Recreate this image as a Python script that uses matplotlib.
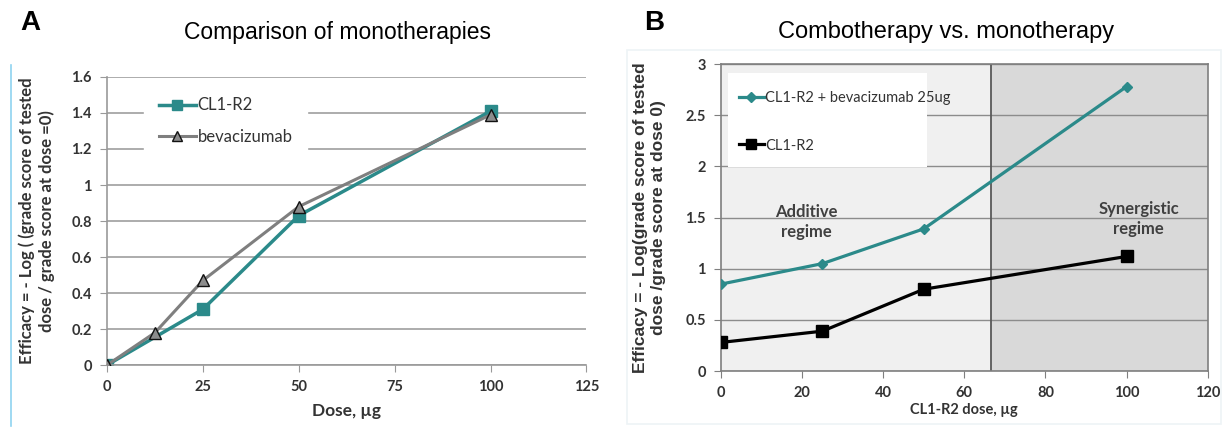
import numpy as np
import matplotlib
matplotlib.use("Agg")
import matplotlib.pyplot as plt
from matplotlib.lines import Line2D
from matplotlib.patches import Rectangle

# panel A data
dose_cl1 = [0, 25, 50, 100]
eff_cl1 = [0, 0.31, 0.83, 1.41]
dose_bev = [0, 12.5, 25, 50, 100]
eff_bev = [0, 0.18, 0.47, 0.88, 1.39]
a_xticks = [0, 25, 50, 75, 100, 125]
a_yticks = [0, 0.2, 0.4, 0.6, 0.8, 1, 1.2, 1.4, 1.6]
a_yticklabels = ["0", "0.2", "0.4", "0.6", "0.8", "1", "1.2", "1.4", "1.6"]

# panel B data
dose_b = [0, 25, 50, 100]
eff_combo = [0.85, 1.05, 1.39, 2.78]
eff_mono = [0.28, 0.39, 0.80, 1.12]
b_xticks = [0, 20, 40, 60, 80, 100, 120]
b_yticks = [0, 0.5, 1, 1.5, 2, 2.5, 3]
b_yticklabels = ["0", "0.5", "1", "1.5", "2", "2.5", "3"]
regime_split = 66.5

teal = "#2b8a8a"
grid_c = "#a6a6a6"
tick_font = dict(family="Lato", weight="bold", size=10.5, color="#333333")

fig = plt.figure(figsize=(12.23, 4.30), dpi=100)

# ---------------- panel A ----------------
a0 = fig.add_axes([0.0875, 0.151, 0.392, 0.670])
a0.plot(dose_bev, eff_bev, color="#7f7f7f", linewidth=2.2, marker="^", markersize=8,
        markerfacecolor="#8c8c8c", markeredgecolor="#111111", markeredgewidth=1.0,
        label="bevacizumab", zorder=3)
a0.plot(dose_cl1, eff_cl1, color=teal, linewidth=2.5, marker="s", markersize=8,
        markerfacecolor=teal, markeredgecolor=teal, label="CL1-R2", zorder=2)
a0.set_xlim(0, 125)
a0.set_ylim(0, 1.6)
a0.set_xticks(a_xticks)
a0.set_yticks(a_yticks)
a0.set_yticklabels(a_yticklabels)
a0.yaxis.grid(True, color=grid_c, linewidth=1.3)
a0.set_axisbelow(True)
for s in ["top", "right"]:
    a0.spines[s].set_visible(False)
for s in ["left", "bottom"]:
    a0.spines[s].set_color("#999999")
    a0.spines[s].set_linewidth(1.2)
a0.tick_params(axis="both", direction="out", length=5, color="#999999", pad=6)
for lab in a0.get_xticklabels() + a0.get_yticklabels():
    lab.set(**tick_font)
a0.set_xlabel("Dose, µg", family="Lato", weight="bold", size=12.5, color="#333333", labelpad=6)
a0.set_ylabel("Efficacy = - Log ( (grade score of tested\ndose / grade score at dose =0)",
              family="Lato", weight="bold", size=12, color="#333333", labelpad=12)
h = [Line2D([], [], color=teal, linewidth=2.5, marker="s", markersize=7, markerfacecolor=teal),
     Line2D([], [], color="#7f7f7f", linewidth=2.2, marker="^", markersize=7,
            markerfacecolor="#8c8c8c", markeredgecolor="#111111")]
leg = a0.legend(h, ["CL1-R2", "bevacizumab"], loc="upper left", bbox_to_anchor=(0.06, 1.01),
                frameon=True, fancybox=False, edgecolor="white", framealpha=1,
                handlelength=2.2, handletextpad=0.1, labelspacing=0.95, borderpad=0.9,
                prop=dict(family="Lato", size=12))
for t in leg.get_texts():
    t.set_color("#333333")
fig.text(337 / 1223, 1 - 32 / 430, "Comparison of monotherapies", family="Liberation Sans",
         size=16.5, ha="center", va="center")
fig.text(0.017, 0.93, "A", family="Liberation Sans", weight="bold", size=20)

# ---------------- panel B ----------------
a1 = fig.add_axes([0.5895, 0.137, 0.398, 0.714])
a1.axvspan(0, regime_split, color="#f0f0f0", zorder=0)
a1.axvspan(regime_split, 120, color="#d9d9d9", zorder=0)
a1.axvline(regime_split, color="#595959", linewidth=1.3, zorder=1)
a1.yaxis.grid(True, color="#8c8c8c", linewidth=1.0, zorder=1)
a1.set_axisbelow(True)
a1.plot(dose_b, eff_combo, color=teal, linewidth=2.3, marker="D", markersize=5,
        markerfacecolor=teal, markeredgecolor=teal, zorder=3)
a1.plot(dose_b, eff_mono, color="black", linewidth=2.3, marker="s", markersize=8,
        markerfacecolor="black", zorder=3)
a1.set_xlim(0, 120)
a1.set_ylim(0, 3)
a1.set_xticks(b_xticks)
a1.set_yticks(b_yticks)
a1.set_yticklabels(b_yticklabels)
for s in a1.spines.values():
    s.set_color("#7f7f7f")
    s.set_linewidth(1.2)
a1.tick_params(axis="both", direction="out", length=5, color="#7f7f7f", pad=6)
for lab in a1.get_xticklabels() + a1.get_yticklabels():
    lab.set(**tick_font)
a1.set_xlabel("CL1-R2 dose, µg", family="Lato", weight="bold", size=10.5, color="#333333", labelpad=2)
a1.set_ylabel("Efficacy = - Log(grade score of tested\ndose /grade score at dose 0)",
              family="Liberation Sans", weight="bold", size=12.5, color="#333333", labelpad=14)
a1.add_patch(Rectangle((0.014, 0.665), 0.41, 0.305, transform=a1.transAxes,
                       facecolor="white", edgecolor="none", zorder=2))
hb = [Line2D([], [], color=teal, linewidth=2.3, marker="D", markersize=5, markerfacecolor=teal),
      Line2D([], [], color="black", linewidth=2.3, marker="s", markersize=7)]
legb = a1.legend(hb, ["CL1-R2 + bevacizumab 25ug", "CL1-R2"], loc="upper left",
                 bbox_to_anchor=(0.01, 0.955), frameon=False, handlelength=1.7,
                 handletextpad=0.1, labelspacing=2.3, prop=dict(family="Lato", size=10.5))
for t in legb.get_texts():
    t.set_color("#333333")
a1.text(21, 1.46, "Additive\nregime", ha="center", va="center", family="Lato",
        weight="bold", size=12, color="#404040", linespacing=1.3, zorder=4)
a1.text(103, 1.49, "Synergistic\nregime", ha="center", va="center", family="Lato",
        weight="bold", size=12, color="#404040", linespacing=1.3, zorder=4)
fig.text(946 / 1223, 1 - 32 / 430, "Combotherapy vs. monotherapy", family="Liberation Sans",
         size=17, ha="center", va="center")
fig.text(0.527, 0.93, "B", family="Liberation Sans", weight="bold", size=20)

# chart area borders
fig.add_artist(Line2D([0.009, 0.009], [0.01, 0.85], color="#8fd3f0", linewidth=1.2))
fig.add_artist(Rectangle((0.513, 0.015), 0.485, 0.869, transform=fig.transFigure,
                         facecolor="none", edgecolor="#eef3f6", linewidth=1.2))

fig.savefig("out.png", dpi=100)
